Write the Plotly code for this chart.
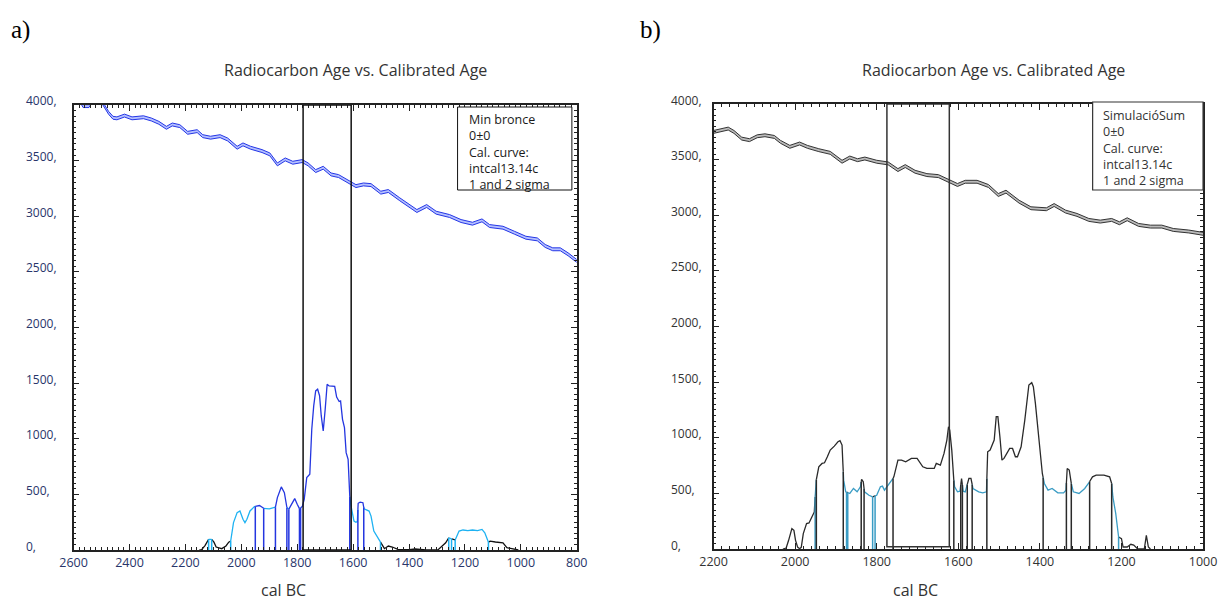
import plotly.graph_objects as go

# ---------------- Panel a data ----------------
cal_a_x = [2600, 2575, 2566, 2545, 2536, 2497, 2475, 2459, 2445, 2418,
           2391, 2350, 2322, 2295, 2268, 2247, 2220, 2192, 2158, 2138,
           2110, 2076, 2049, 2015, 1994, 1967, 1926, 1898, 1871, 1843,
           1816, 1782, 1761, 1734, 1707, 1679, 1652, 1611, 1590, 1563,
           1536, 1501, 1474, 1433, 1399, 1372, 1337, 1303, 1255, 1214,
           1173, 1139, 1112, 1064, 1023, 982, 941, 913, 886, 859,
           831, 800]
cal_a_bp = [4030, 4030, 3990, 3990, 4030, 4020, 3930, 3885, 3880, 3905,
            3880, 3890, 3870, 3840, 3795, 3825, 3810, 3750, 3765, 3720,
            3706, 3720, 3690, 3616, 3646, 3616, 3586, 3556, 3466, 3511,
            3481, 3496, 3466, 3406, 3436, 3376, 3361, 3301, 3271, 3286,
            3280, 3212, 3227, 3152, 3092, 3047, 3092, 3032, 3002, 2957,
            2933, 2963, 2912, 2897, 2852, 2807, 2792, 2733, 2703, 2703,
            2658, 2598]
cal_a_sigma = 13

dens_a_x = [2150, 2142, 2130, 2117, 2106, 2098, 2090, 2070, 2055, 2045,
            2038, 2028, 2015, 2005, 1994, 1987, 1980, 1969, 1953, 1935,
            1920, 1900, 1878, 1871, 1857, 1846, 1837, 1830, 1816, 1809,
            1800, 1792, 1782, 1775, 1766, 1755, 1748, 1741, 1734, 1727,
            1720, 1714, 1707, 1700, 1693, 1686, 1679, 1666, 1659, 1650,
            1645, 1638, 1631, 1625, 1618, 1614, 1608, 1597, 1590, 1585,
            1582, 1575, 1565, 1561, 1543, 1536, 1526, 1508, 1502, 1495,
            1488, 1474, 1460, 1440, 1400, 1378, 1340, 1296, 1283, 1269,
            1258, 1248, 1235, 1221, 1207, 1190, 1173, 1155, 1139, 1129,
            1116, 1110, 1091, 1064, 1050, 1030, 1009]
dens_a_y = [0, 3, 40, 96, 96, 70, 27, 12, 36, 70,
            81, 246, 336, 351, 276, 246, 276, 351, 390, 400,
            375, 370, 385, 471, 567, 516, 382, 367, 432, 462,
            411, 372, 390, 456, 651, 681, 1085, 1295, 1430, 1445,
            1385, 1205, 1070, 1265, 1490, 1475, 1475, 1470, 1375, 1335,
            1340, 1175, 1100, 875, 815, 520, 400, 260, 250, 255,
            420, 430, 425, 370, 350, 305, 170, 96, 70, 40,
            12, 36, 27, 6, 3, 9, 0, 3, 36, 65,
            110, 100, 90, 170, 180, 175, 180, 175, 185, 155,
            70, 80, 72, 65, 21, 10, 0]
sig1_a = [(1950, 1920), (1878, 1837), (1830, 1792), (1788, 1612), (1583, 1562)]
sig2_a = [(2117, 2106), (2038, 1502), (1258, 1248), (1235, 1116)]
box_a = (1779, 1607)
legend_a = ["Min bronce", "0±0", "Cal. curve:", "intcal13.14c", "1 and 2 sigma"]

# ---------------- Panel b data ----------------
cal_b_x = [2200, 2178, 2164, 2150, 2131, 2112, 2093, 2074, 2051, 2036,
           2013, 1989, 1970, 1942, 1914, 1885, 1866, 1847, 1829, 1800,
           1772, 1748, 1730, 1706, 1677, 1649, 1626, 1602, 1583, 1554,
           1526, 1502, 1483, 1451, 1422, 1384, 1365, 1337, 1309, 1280,
           1252, 1224, 1205, 1186, 1158, 1129, 1101, 1073, 1035, 1000]
cal_b_bp = [3749, 3764, 3779, 3749, 3689, 3675, 3710, 3719, 3704, 3660,
            3615, 3645, 3615, 3585, 3561, 3481, 3519, 3495, 3510, 3481,
            3466, 3406, 3442, 3391, 3361, 3352, 3316, 3272, 3301, 3301,
            3263, 3182, 3212, 3122, 3063, 3054, 3092, 3033, 3003, 2958,
            2943, 2958, 2928, 2964, 2913, 2898, 2898, 2868, 2854, 2833]
cal_b_sigma = 13

dens_b_x = [2030, 2022, 2016, 2008, 2003, 1999, 1994, 1989, 1985, 1980,
            1972, 1966, 1959, 1953, 1949, 1942, 1934, 1928, 1921, 1914,
            1904, 1895, 1890, 1885, 1883, 1881, 1876, 1866, 1857, 1848,
            1840, 1837, 1833, 1830, 1819, 1810, 1800, 1791, 1786, 1781,
            1772, 1764, 1758, 1748, 1739, 1729, 1715, 1701, 1687, 1677,
            1659, 1654, 1644, 1635, 1628, 1624, 1621, 1616, 1613, 1609,
            1602, 1596, 1592, 1588, 1583, 1574, 1569, 1564, 1550, 1540,
            1531, 1528, 1522, 1517, 1512, 1507, 1503, 1498, 1493, 1488,
            1474, 1467, 1460, 1455, 1446, 1437, 1427, 1420, 1416, 1411,
            1405, 1399, 1394, 1389, 1380, 1370, 1356, 1342, 1336, 1333,
            1328, 1323, 1318, 1304, 1290, 1281, 1271, 1262, 1243, 1229,
            1224, 1221, 1214, 1207, 1200, 1196, 1186, 1177, 1170, 1160,
            1144, 1139, 1134, 1129]
dens_b_y = [0, 9, 78, 183, 168, 78, 18, 3, 15, 138,
            228, 234, 288, 333, 604, 739, 769, 775, 829, 889,
            925, 964, 973, 934, 769, 619, 514, 499, 544, 514,
            559, 625, 604, 514, 483, 468, 483, 559, 565, 529,
            574, 604, 649, 799, 799, 784, 814, 814, 739, 724,
            724, 769, 754, 859, 979, 1099, 1069, 889, 679, 559,
            514, 520, 634, 520, 514, 634, 634, 544, 514, 505,
            514, 874, 889, 934, 979, 1189, 1189, 1009, 799, 814,
            904, 904, 829, 829, 919, 1159, 1474, 1495, 1459, 1309,
            1069, 829, 679, 589, 529, 544, 505, 505, 529, 724,
            709, 589, 514, 499, 544, 589, 649, 664, 664, 649,
            589, 468, 318, 108, 93, 18, 18, 42, 35, 0,
            0, 123, 18, 0]
sig1_b = [(1948, 1882), (1838, 1831), (1760, 1611), (1594, 1590), (1578, 1566),
          (1530, 1392), (1335, 1323), (1278, 1224)]
sig2_b = [(1951, 1874), (1871, 1810), (1804, 1207)]
box_b = (1775, 1622)
box_b_bottom = 20
legend_b = ["SimulacióSum", "0±0", "Cal. curve:", "intcal13.14c", "1 and 2 sigma"]

y_tick_vals = [0, 500, 1000, 1500, 2000, 2500, 3000, 3500, 4000]
y_tick_text = ["0,", "500,", "1000,", "1500,", "2000,", "2500,", "3000,", "3500,", "4000,"]
title_text = "Radiocarbon Age vs. Calibrated Age"
x_title = "cal BC"

W, H = 1219, 604


def px(x):
    return max(0.0, min(1.0, x / W))


def py(y):
    return 1 - y / H


def segments(xs, ys, s1, s2):
    bounds = sorted({b for r in s1 + s2 for b in r}, reverse=True)
    pts = list(zip(xs, ys))
    npts = []
    for i in range(len(pts) - 1):
        x0, y0 = pts[i]
        x1, y1 = pts[i + 1]
        npts.append((x0, y0))
        for b in bounds:
            if x0 > b > x1:
                t = (x0 - b) / (x0 - x1)
                npts.append((b, y0 + t * (y1 - y0)))
    npts.append(pts[-1])

    def cls(x):
        if any(hi >= x >= lo for hi, lo in s1):
            return 1
        if any(hi >= x >= lo for hi, lo in s2):
            return 2
        return 0

    segs = []
    for i in range(len(npts) - 1):
        c = cls((npts[i][0] + npts[i + 1][0]) / 2)
        if segs and segs[-1][0] == c:
            segs[-1][1].append(npts[i + 1])
        else:
            segs.append([c, [npts[i], npts[i + 1]]])
    return segs


def interp(xs, ys, x):
    for i in range(len(xs) - 1):
        if xs[i] >= x >= xs[i + 1]:
            t = (xs[i] - x) / (xs[i] - xs[i + 1]) if xs[i] != xs[i + 1] else 0
            return ys[i] + t * (ys[i + 1] - ys[i])
    return 0


fig = go.Figure()


def add_panel(xa, ya, cx, cbp, csig, line_col, fill_col, dx, dy, s1, s2, cols):
    up = [v + csig for v in cbp]
    lo = [v - csig for v in cbp]
    fig.add_trace(go.Scatter(x=cx, y=up, xaxis=xa, yaxis=ya, mode="lines",
                             line=dict(color=line_col, width=1), hoverinfo="skip"))
    fig.add_trace(go.Scatter(x=cx, y=lo, xaxis=xa, yaxis=ya, mode="lines",
                             line=dict(color=line_col, width=1), fill="tonexty",
                             fillcolor=fill_col, hoverinfo="skip"))
    segs = segments(dx, dy, s1, s2)
    for c in (0, 2, 1):
        X, Y = [], []
        for cc, pts in segs:
            if cc == c:
                X += [p[0] for p in pts] + [None]
                Y += [p[1] for p in pts] + [None]
        if X:
            fig.add_trace(go.Scatter(x=X, y=Y, xaxis=xa, yaxis=ya, mode="lines",
                                     line=dict(color=cols[c], width=1.3), hoverinfo="skip"))
    for c, ranges in ((2, s2), (1, s1)):
        X, Y = [], []
        for r in ranges:
            for b in r:
                X += [b, b, None]
                Y += [0, interp(dx, dy, b), None]
        fig.add_trace(go.Scatter(x=X, y=Y, xaxis=xa, yaxis=ya, mode="lines",
                                 line=dict(color=cols[c], width=1.5), hoverinfo="skip"))


add_panel("x", "y", cal_a_x, cal_a_bp, cal_a_sigma, "#2436E6", "rgba(150,165,255,0.7)",
          dens_a_x, dens_a_y, sig1_a, sig2_a, {0: "#111111", 1: "#2436E0", 2: "#1EB2F2"})
add_panel("x2", "y2", cal_b_x, cal_b_bp, cal_b_sigma, "#333333", "rgba(170,170,170,0.8)",
          dens_b_x, dens_b_y, sig1_b, sig2_b, {0: "#2a2a2a", 1: "#2a2a2a", 2: "#3A9CC4"})

axis_common = dict(showline=True, linecolor="#222222", linewidth=1.5, mirror="allticks",
                   ticks="inside", ticklen=6, tickwidth=1, tickcolor="#222222",
                   showgrid=False, zeroline=False, fixedrange=True)

fig.update_layout(
    width=W, height=H, margin=dict(l=0, r=0, t=0, b=0),
    paper_bgcolor="white", plot_bgcolor="white", showlegend=False,
    xaxis=dict(domain=[px(61), px(576)], range=[2600, 800], dtick=200, tick0=0,
               anchor="y", tickfont=dict(family="Open Sans", size=12.5, color="#28356a"),
               ticklabeloverflow="allow",
               minor=dict(dtick=20, ticklen=3, ticks="inside", tickcolor="#222222", showgrid=False),
               **axis_common),
    yaxis=dict(domain=[py(550), py(105)], range=[0, 4000], dtick=500, anchor="x",
               showticklabels=False,
               minor=dict(dtick=50, ticklen=3, ticks="inside", tickcolor="#222222", showgrid=False),
               **axis_common),
    xaxis2=dict(domain=[px(716), px(1217)], range=[2200, 1000], dtick=200, tick0=0,
                anchor="y2", tickfont=dict(family="Open Sans", size=12.5, color="#333333"),
                ticklabeloverflow="allow",
                minor=dict(dtick=20, ticklen=3, ticks="inside", tickcolor="#222222", showgrid=False),
                **axis_common),
    yaxis2=dict(domain=[py(549), py(104)], range=[0, 4000], dtick=500, anchor="x2",
                showticklabels=False,
                minor=dict(dtick=50, ticklen=3, ticks="inside", tickcolor="#222222", showgrid=False),
                **axis_common),
)

shapes = [
    dict(type="rect", xref="x", yref="y", x0=box_a[0], x1=box_a[1], y0=0, y1=4000,
         line=dict(color="#111111", width=1.5)),
    dict(type="rect", xref="x2", yref="y2", x0=box_b[0], x1=box_b[1], y0=box_b_bottom, y1=4000,
         line=dict(color="#333333", width=1.5)),
    dict(type="rect", xref="paper", yref="paper", x0=px(454), x1=px(571), y0=py(190), y1=py(107),
         line=dict(color="#111111", width=1), fillcolor="white"),
    dict(type="rect", xref="paper", yref="paper", x0=px(1104), x1=px(1217), y0=py(190), y1=py(102),
         line=dict(color="#333333", width=1.2), fillcolor="white"),
]

ann = []
for v, t in zip(y_tick_vals, y_tick_text):
    ann.append(dict(xref="paper", yref="y", x=px(10), y=v, yshift=4, text=t, showarrow=False,
                    xanchor="left", yanchor="middle",
                    font=dict(family="Open Sans", size=12, color="#28356a")))
    ann.append(dict(xref="paper", yref="y2", x=px(670), y=v, yshift=4, text=t, showarrow=False,
                    xanchor="left", yanchor="middle",
                    font=dict(family="Open Sans", size=12, color="#333333")))

ann += [
    dict(xref="paper", yref="paper", x=px(350), y=py(70), text=title_text, showarrow=False,
         xanchor="center", yanchor="middle",
         font=dict(family="Open Sans", size=16, color="#333333")),
    dict(xref="paper", yref="paper", x=px(1003), y=py(70), text=title_text, showarrow=False,
         xanchor="center", yanchor="middle",
         font=dict(family="Open Sans", size=16, color="#333333")),
    dict(xref="paper", yref="paper", x=px(276), y=py(590), text=x_title, showarrow=False,
         xanchor="center", yanchor="middle",
         font=dict(family="Open Sans", size=16, color="#333333")),
    dict(xref="paper", yref="paper", x=px(923), y=py(590), text=x_title, showarrow=False,
         xanchor="center", yanchor="middle",
         font=dict(family="Open Sans", size=16, color="#333333")),
    dict(xref="paper", yref="paper", x=px(0), y=py(30), text="a)", showarrow=False,
         xanchor="left", yanchor="middle", xshift=-5,
         font=dict(family="Liberation Serif", size=25, color="#000000")),
    dict(xref="paper", yref="paper", x=px(639), y=py(30), text="b)", showarrow=False,
         xanchor="left", yanchor="middle",
         font=dict(family="Liberation Serif", size=25, color="#000000")),
    dict(xref="paper", yref="paper", x=px(464), y=py(109), text="<br>".join(legend_a),
         showarrow=False, xanchor="left", yanchor="top", align="left",
         font=dict(family="Open Sans", size=12.5, color="#1a1a1a")),
    dict(xref="paper", yref="paper", x=px(1113), y=py(105), text="<br>".join(legend_b),
         showarrow=False, xanchor="left", yanchor="top", align="left",
         font=dict(family="Open Sans", size=12.5, color="#333333")),
]

fig.update_layout(shapes=shapes, annotations=ann)
fig.write_html("out.html", config={"displayModeBar": False},
               post_script="document.body.style.margin='0px';")
